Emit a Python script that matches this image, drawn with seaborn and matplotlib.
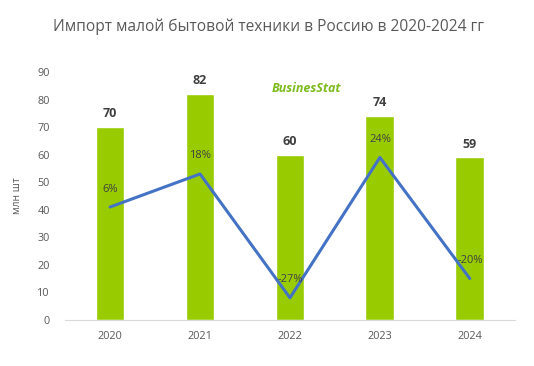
import matplotlib.pyplot as plt
import pandas as pd
import seaborn as sns

years = ["2020", "2021", "2022", "2023", "2024"]
imports = [70, 82, 60, 74, 59]
growth = [6, 18, -27, 24, -20]

df = pd.DataFrame({"year": years, "imports": imports, "growth": growth})

sns.set_style("white")
plt.rcParams["font.family"] = ["Open Sans", "DejaVu Sans"]

fig = plt.figure(figsize=(5.34, 3.66), dpi=100)
ax = fig.add_axes([0.122, 0.126, 0.842, 0.677])

sns.barplot(df, x="year", y="imports", color="#99CC00", width=0.32,
            saturation=1, ax=ax)
ax.set_ylim(0, 90)
ax.set_xlim(-0.5, 4.5)
ax.set_yticks(range(0, 91, 10))
ax.set_xlabel("")
ax.set_ylabel("млн шт", fontsize=7.5, color="#595959", labelpad=10)
ax.tick_params(axis="both", labelsize=7.8, colors="#595959", length=0)
ax.tick_params(axis="x", pad=8)
ax.tick_params(axis="y", pad=11)
for s in ["top", "right", "left"]:
    ax.spines[s].set_visible(False)
ax.spines["bottom"].set_color("#D9D9D9")

for i, v in enumerate(imports):
    ax.annotate(str(v), (i, v), xytext=(0, 5), textcoords="offset points",
                ha="center", va="bottom", fontsize=9, fontweight="bold",
                color="#404040")

ax2 = ax.twinx()
sns.lineplot(df, x="year", y="growth", color="#4472C4", linewidth=2.2,
             sort=False, ax=ax2)
ax2.set_ylim(-35, 55)
ax2.set_axis_off()
for i, g in enumerate(growth):
    ax2.annotate(f"{g}%", (i, g), xytext=(0, 9), textcoords="offset points",
                 ha="center", va="bottom", fontsize=8, color="#404040")

fig.text(0.503, 0.927, "Импорт малой бытовой техники в Россию в 2020-2024 гг",
         ha="center", va="center", fontsize=11.2, color="#595959")
fig.text(0.573, 0.758, "BusinesStat", ha="center", va="center", fontsize=9,
         fontweight="bold", fontstyle="italic", color="#7DBB1E")

fig.savefig("out.png", dpi=100)
